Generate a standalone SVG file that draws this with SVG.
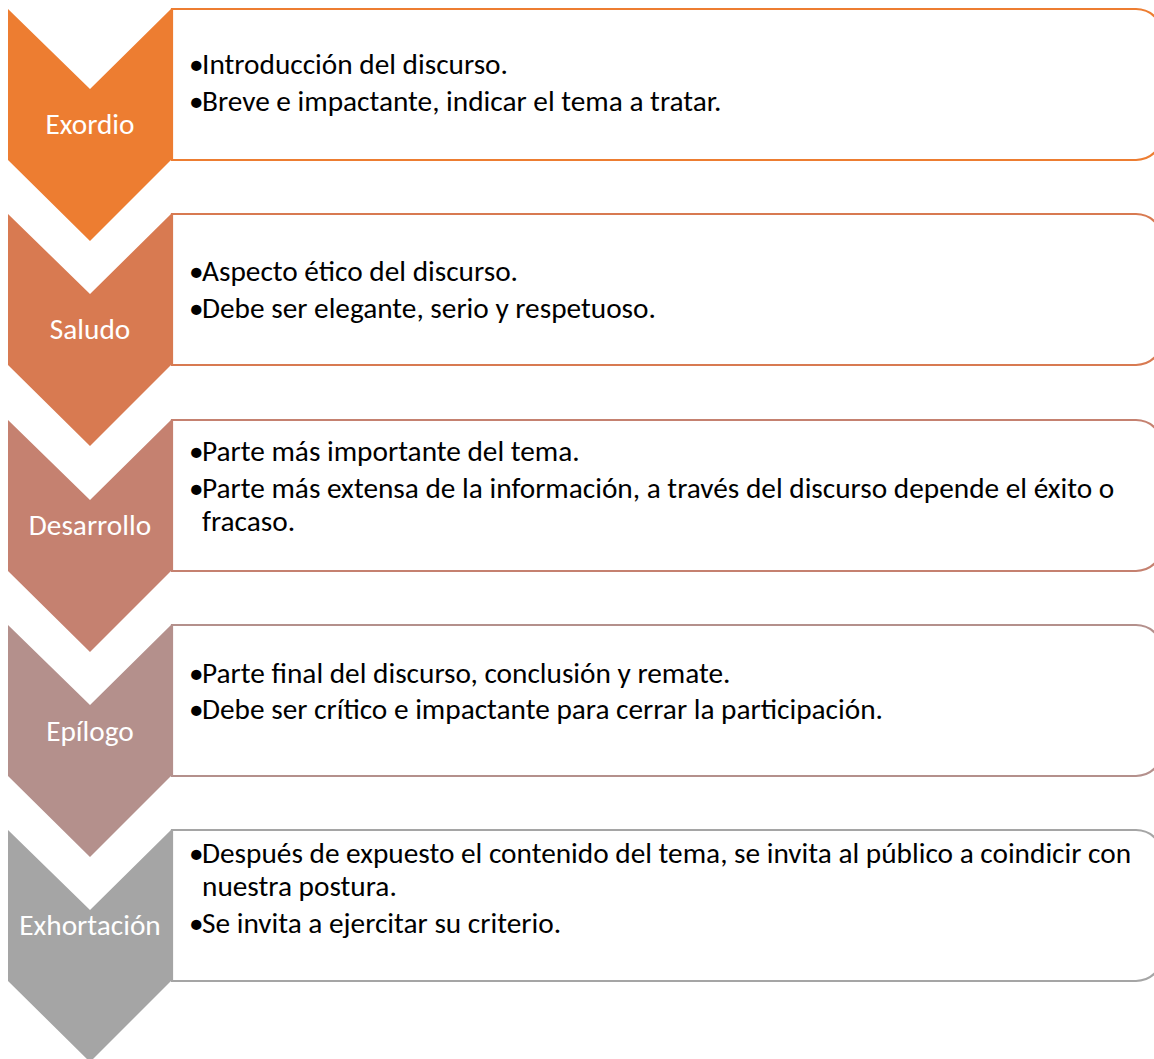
<svg xmlns="http://www.w3.org/2000/svg" width="1154" height="1059" viewBox="0 0 1154 1059">
<style>
  .box { fill: #FFFFFF; stroke-width: 2.2; }
  .lbl { font-family: Carlito, Lato, "Liberation Sans", sans-serif; font-size: 29.3px; fill: #FFFFFF; text-anchor: middle; }
  .txt { font-family: Carlito, Lato, "Liberation Sans", sans-serif; font-size: 29.3px; fill: #000000; }
</style>
<rect width="1154" height="1059" fill="#FFFFFF"/>
<g id="connectors"></g>

<g id="node-exordio">
  <path class="box" stroke="#ED7D31" d="M172,9 H1136 A27,27 0 0 1 1163,36 V133 A27,27 0 0 1 1136,160 H172 Z"/>
  <path fill="#ED7D31" d="M8,9 L90,89 L171,9 L171,160 L90,241 L8,160 Z"/>
  <text class="lbl" x="90" y="134">Exordio</text>
  <text class="txt" x="189" y="74">•<tspan x="202">Introducción del discurso.</tspan></text>
  <text class="txt" x="189" y="111">•<tspan x="202">Breve e impactante, indicar el tema a tratar.</tspan></text>
</g>

<g id="node-saludo">
  <path class="box" stroke="#D87A51" d="M172,214 H1136 A27,27 0 0 1 1163,241 V338 A27,27 0 0 1 1136,365 H172 Z"/>
  <path fill="#D87A51" d="M8,214 L90,294 L171,214 L171,365 L90,446 L8,365 Z"/>
  <text class="lbl" x="90" y="339">Saludo</text>
  <text class="txt" x="189" y="281">•<tspan x="202">Aspecto ético del discurso.</tspan></text>
  <text class="txt" x="189" y="318">•<tspan x="202">Debe ser elegante, serio y respetuoso.</tspan></text>
</g>

<g id="node-desarrollo">
  <path class="box" stroke="#C58170" d="M172,420 H1136 A27,27 0 0 1 1163,447 V544 A27,27 0 0 1 1136,571 H172 Z"/>
  <path fill="#C58170" d="M8,420 L90,500 L171,420 L171,571 L90,652 L8,571 Z"/>
  <text class="lbl" x="90" y="535">Desarrollo</text>
  <text class="txt" x="189" y="461">•<tspan x="202">Parte más importante del tema.</tspan></text>
  <text class="txt" x="189" y="498">•<tspan x="202">Parte más extensa de la información, a través del discurso depende el éxito o</tspan></text>
  <text class="txt" x="202" y="531">fracaso.</text>
</g>

<g id="node-epilogo">
  <path class="box" stroke="#B4908C" d="M172,625 H1136 A27,27 0 0 1 1163,652 V749 A27,27 0 0 1 1136,776 H172 Z"/>
  <path fill="#B4908C" d="M8,625 L90,705 L171,625 L171,776 L90,857 L8,776 Z"/>
  <text class="lbl" x="90" y="741">Epílogo</text>
  <text class="txt" x="189" y="683">•<tspan x="202">Parte final del discurso, conclusión y remate.</tspan></text>
  <text class="txt" x="189" y="719">•<tspan x="202">Debe ser crítico e impactante para cerrar la participación.</tspan></text>
</g>

<g id="node-exhortacion">
  <path class="box" stroke="#A5A5A5" d="M172,830 H1136 A27,27 0 0 1 1163,857 V954 A27,27 0 0 1 1136,981 H172 Z"/>
  <path fill="#A5A5A5" d="M8,830 L90,910 L171,830 L171,981 L90,1062 L8,981 Z"/>
  <text class="lbl" x="90" y="935">Exhortación</text>
  <text class="txt" x="189" y="863">•<tspan x="202">Después de expuesto el contenido del tema, se invita al público a coindicir con</tspan></text>
  <text class="txt" x="202" y="896">nuestra postura.</text>
  <text class="txt" x="189" y="933">•<tspan x="202">Se invita a ejercitar su criterio.</tspan></text>
</g>
</svg>
